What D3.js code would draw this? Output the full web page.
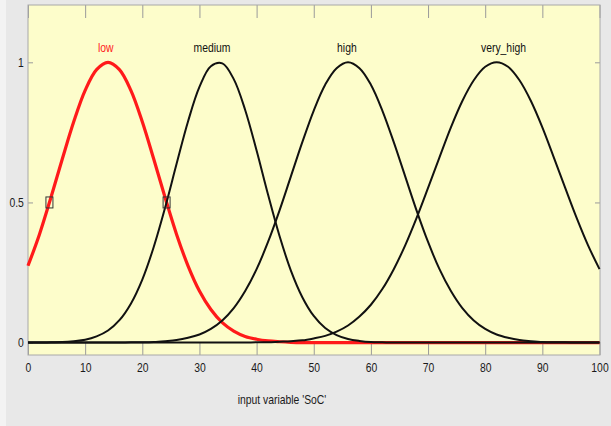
<!DOCTYPE html>
<html>
<head>
<meta charset="utf-8">
<script src="https://cdnjs.cloudflare.com/ajax/libs/d3/7.8.5/d3.min.js"></script>
<style>
  body { margin: 0; background: #e8e8e8; }
  svg { display: block; font-family: "Liberation Sans", Arial, sans-serif; }
</style>
</head>
<body>
<div id="container"></div>
<script>
// input variable 'SoC' sample points
var soc = [0, 2, 4, 6, 8, 10, 12, 14, 16, 18, 20, 22, 24, 26, 28, 30, 32, 34, 36, 38, 40,
  42, 44, 46, 48, 50, 52, 54, 56, 58, 60, 62, 64, 66, 68, 70, 72, 74, 76, 78, 80,
  82, 84, 86, 88, 90, 92, 94, 96, 98, 100];

// membership values
var low = [0.274, 0.386, 0.517, 0.655, 0.788, 0.900, 0.974, 1.000, 0.974, 0.900, 0.788,
  0.655, 0.517, 0.386, 0.274, 0.184, 0.118, 0.071, 0.041, 0.022, 0.012,
  0.006, 0.003, 0.001, 0, 0, 0, 0, 0, 0, 0, 0, 0, 0, 0, 0, 0, 0, 0, 0, 0,
  0, 0, 0, 0, 0, 0, 0, 0, 0, 0];
var medium = [0, 0, 0.001, 0.002, 0.005, 0.010, 0.022, 0.043, 0.080, 0.139, 0.225,
  0.341, 0.482, 0.638, 0.789, 0.912, 0.986, 0.996, 0.940, 0.830, 0.685,
  0.528, 0.381, 0.257, 0.162, 0.095, 0.052, 0.027, 0.013, 0.006, 0.002,
  0.001, 0, 0, 0, 0, 0, 0, 0, 0, 0, 0, 0, 0, 0, 0, 0, 0, 0, 0, 0];
var high = [0, 0, 0, 0, 0, 0, 0, 0, 0, 0.001, 0.001, 0.002, 0.005, 0.009, 0.017, 0.029,
  0.049, 0.079, 0.123, 0.184, 0.262, 0.359, 0.471, 0.593, 0.715, 0.828, 0.920,
  0.979, 1.000, 0.979, 0.920, 0.828, 0.715, 0.593, 0.471, 0.359, 0.262, 0.184,
  0.123, 0.079, 0.049, 0.029, 0.017, 0.009, 0.005, 0.002, 0.001, 0.001, 0, 0, 0];
var veryHigh = [0, 0, 0, 0, 0, 0, 0, 0, 0, 0, 0, 0, 0, 0, 0, 0, 0, 0, 0, 0,
  0.001, 0.001, 0.003, 0.005, 0.008, 0.015, 0.024, 0.039, 0.061, 0.093, 0.135,
  0.191, 0.262, 0.347, 0.445, 0.552, 0.661, 0.768, 0.862, 0.936, 0.984,
  1.000, 0.984, 0.936, 0.862, 0.768, 0.661, 0.552, 0.445, 0.347, 0.262];

var mfNames = ['low', 'medium', 'high', 'very_high'];
var mfLabelX = [13.6, 32.2, 55.8, 83.2];
var xTicks = [0, 10, 20, 30, 40, 50, 60, 70, 80, 90, 100];
var yTicks = [0, 0.5, 1];
var handleX = [3.75, 24.25];   // selected-MF handles of 'low'
var handleY = 0.5;

var width = 611, height = 426;
var plotL = 28, plotR = 600, plotT = 5, plotB = 355;
var squish = 0.83;  // picture text is horizontally compressed

var svg = d3.select('#container').append('svg')
  .attr('width', width).attr('height', height);

svg.append('rect').attr('width', width).attr('height', height).attr('fill', '#e8e8e8');
svg.append('rect').attr('width', 6).attr('height', height).attr('fill', '#f3f3f3');

var x = d3.scaleLinear().domain([0, 100]).range([plotL, 599.5]);
var y = d3.scaleLinear().domain([0, 1]).range([342.6, 62.3]);

svg.append('rect')
  .attr('x', plotL).attr('y', plotT)
  .attr('width', plotR - plotL).attr('height', plotB - plotT)
  .attr('fill', '#fdfdcb');

function styleAxis(g) {
  g.select('.domain').remove();
  g.selectAll('.tick line').attr('stroke', '#9a9a9a');
  g.selectAll('.tick text')
    .attr('fill', '#1a1a1a')
    .attr('font-size', '12.5px')
    .attr('transform', 'scale(' + squish + ',1)');
}

svg.append('g').attr('transform', 'translate(0,' + plotB + ')')
  .call(d3.axisBottom(x).tickValues(xTicks).tickSizeInner(-13).tickSizeOuter(0)
    .tickPadding(8).tickFormat(d3.format('d')))
  .call(styleAxis);
svg.append('g').attr('transform', 'translate(0,' + plotT + ')')
  .call(d3.axisTop(x).tickValues(xTicks).tickSizeInner(-13).tickSizeOuter(0).tickFormat(''))
  .call(styleAxis);
svg.append('g').attr('transform', 'translate(' + plotL + ',0)')
  .call(d3.axisLeft(y).tickValues(yTicks).tickSizeInner(-5).tickSizeOuter(0)
    .tickPadding(5).tickFormat(d3.format('~g')))
  .call(styleAxis);
svg.append('g').attr('transform', 'translate(' + plotR + ',0)')
  .call(d3.axisRight(y).tickValues(yTicks).tickSizeInner(-5).tickSizeOuter(0).tickFormat(''))
  .call(styleAxis);

svg.append('rect')
  .attr('x', plotL).attr('y', plotT)
  .attr('width', plotR - plotL).attr('height', plotB - plotT)
  .attr('fill', 'none').attr('stroke', '#a8a8a8');

var line = d3.line()
  .x(function(d, i) { return x(soc[i]); })
  .y(function(d) { return y(d); })
  .curve(d3.curveCatmullRom.alpha(0.5));

var series = [low, medium, high, veryHigh];
svg.selectAll('path.mf')
  .data(series)
  .enter().append('path')
  .classed('mf', true)
  .attr('d', line)
  .attr('fill', 'none')
  .attr('stroke', function(d, i) { return i === 0 ? '#ff1a1a' : '#111'; })
  .attr('stroke-width', function(d, i) { return i === 0 ? 3.2 : 2; })
  .attr('stroke-linejoin', 'round');

svg.selectAll('text.mf-label')
  .data(mfNames)
  .enter().append('text')
  .classed('mf-label', true)
  .attr('transform', function(d, i) {
    return 'translate(' + x(mfLabelX[i]) + ',52) scale(' + squish + ',1)';
  })
  .attr('text-anchor', 'middle')
  .attr('font-size', '12.5px')
  .attr('fill', function(d, i) { return i === 0 ? '#ff2020' : '#111'; })
  .text(function(d) { return d; });

svg.selectAll('rect.handle')
  .data(handleX)
  .enter().append('rect')
  .classed('handle', true)
  .attr('x', function(d) { return x(d) - 3.5; })
  .attr('y', y(handleY) - 5.5)
  .attr('width', 7).attr('height', 11)
  .attr('fill', 'none')
  .attr('stroke', '#333')
  .attr('stroke-width', 1);

svg.append('text')
  .attr('transform', 'translate(282,404) scale(' + squish + ',1)')
  .attr('text-anchor', 'middle')
  .attr('font-size', '12.5px')
  .attr('fill', '#1a1a1a')
  .text("input variable 'SoC'");
</script>
</body>
</html>
